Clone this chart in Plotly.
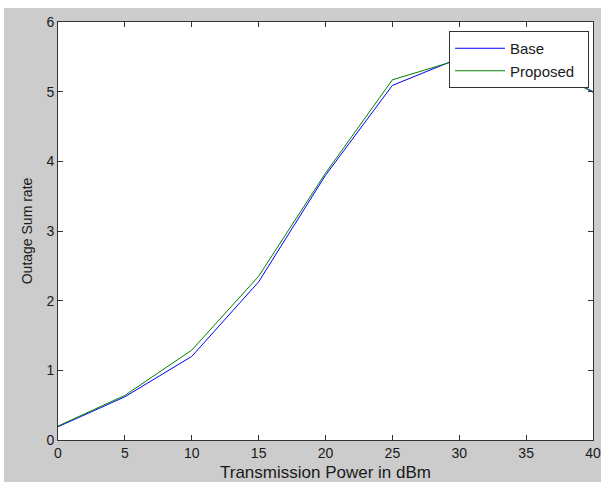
import plotly.graph_objects as go

x_power = [0, 5, 10, 15, 20, 25, 30, 35, 40]
base_rate = [0.19, 0.62, 1.20, 2.27, 3.80, 5.09, 5.48, 5.50, 5.00]
proposed_rate = [0.20, 0.64, 1.29, 2.35, 3.83, 5.17, 5.46, 5.50, 4.99]

x_ticks = [0, 5, 10, 15, 20, 25, 30, 35, 40]
y_ticks = [0, 1, 2, 3, 4, 5, 6]

# figure is placed at page offset (4, 8); the page background (white) shows around it
W, H = 597, 474
ML, MR, MT, MB = 54, 8, 14, 42
pw, ph = W - ML - MR, H - MT - MB

fig = go.Figure()
fig.add_trace(go.Scatter(x=x_power, y=base_rate, mode="lines", name="Base\u00a0\u00a0",
                         line=dict(color="#0000ff", width=1)))
fig.add_trace(go.Scatter(x=x_power, y=proposed_rate, mode="lines", name="Proposed\u00a0\u00a0",
                         line=dict(color="#008000", width=1)))

FAM = "Liberation Sans, Arial, sans-serif"
tickfont = dict(family=FAM, size=14, color="#1a1a1a")
axis_common = dict(
    showgrid=False, zeroline=False, showline=True, linecolor="#333333", linewidth=1,
    mirror="allticks", ticks="inside", ticklen=5, tickcolor="#333333", tickwidth=1,
    tickfont=tickfont, automargin=False,
)

fig.update_layout(
    width=W, height=H,
    margin=dict(l=ML, r=MR, t=MT, b=MB),
    paper_bgcolor="#cccccc", plot_bgcolor="#ffffff",
    font=dict(family=FAM, color="#1a1a1a"),
    xaxis=dict(range=[0, 40], tickvals=x_ticks, ticktext=[str(v) for v in x_ticks],
               title=dict(text="Transmission Power in dBm",
                          font=dict(family=FAM, size=17, color="#1a1a1a"), standoff=6),
               **axis_common),
    yaxis=dict(range=[0, 6], tickvals=y_ticks, ticktext=[str(v) for v in y_ticks],
               title=dict(text="Outage Sum rate",
                          font=dict(family=FAM, size=14, color="#1a1a1a"), standoff=10),
               **axis_common),
    legend=dict(x=(585 - ML) / pw, y=(H - MB - 23) / ph, xanchor="right", yanchor="top",
                bgcolor="#ffffff", bordercolor="#333333", borderwidth=1,
                font=dict(family=FAM, size=15, color="#1a1a1a"),
                itemwidth=50, tracegroupgap=0),
    showlegend=True,
)

fig.write_html(
    "out.html",
    post_script="document.body.style.margin='8px 0 0 4px';document.body.style.overflow='hidden';",
)
